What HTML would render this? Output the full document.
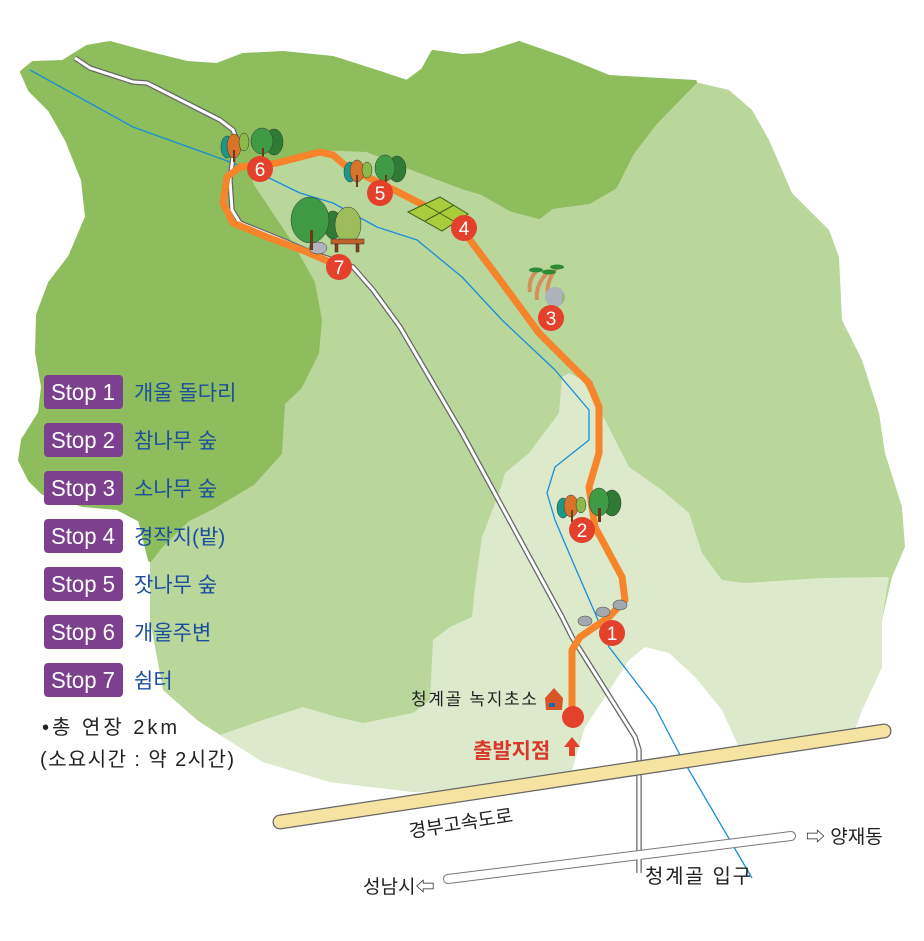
<!DOCTYPE html>
<html><head><meta charset="utf-8"><style>
html,body{margin:0;padding:0;background:#fff;width:924px;height:941px;overflow:hidden}
svg{display:block}
text{font-family:"Liberation Sans","Noto Sans CJK KR",sans-serif}
</style></head><body>
<svg width="924" height="941" viewBox="0 0 924 941" xmlns="http://www.w3.org/2000/svg">
<!-- light green -->
<path d="M695,82 L729,90 L752,110 L769,140 L792,193 L829,230 L839,257 L842,320 L862,360 L879,413 L885,453 L902,507 L905,547 L892,577 L882,620 L882,667 L862,710 L852,737 L575,775 L470,790 L413,792 L330,782 L263,762 L220,735 L197,720 L163,690 L150,620 L150,560 L160,547 L187,520 L213,507 L253,483 L280,453 L283,403 L300,387 L317,353 L320,320 L313,283 L293,247 L273,217 L253,187 L247,173 L283,157 L317,148 L367,150 L417,170 L462,187 L482,193 L512,210 L539,217 L552,207 L589,202 L615,187 L632,153 L655,123 Z" fill="#b9d69b"/>
<!-- lightest -->
<path d="M562,377 L569,373 L582,380 L605,420 L629,467 L662,490 L689,513 L702,553 L722,580 L745,583 L822,578 L889,577 L882,620 L882,667 L862,710 L852,737 L575,775 L470,790 L413,792 L330,782 L263,762 L220,735 L263,720 L303,707 L337,717 L363,723 L413,713 L430,700 L433,640 L450,627 L472,617 L475,587 L482,537 L499,493 L505,473 L529,453 L559,413 Z" fill="#dde9cb"/>
<!-- white notch -->
<path d="M572,770 L585,727 L605,697 L629,660 L645,647 L669,653 L695,677 L722,710 L740,750 Z" fill="#fff"/>
<!-- dark green -->
<path d="M22,72 L33,63 L63,62 L87,47 L110,43 L143,52 L187,63 L217,65 L243,55 L283,53 L333,58 L377,72 L407,82 L423,70 L433,52 L462,56 L482,55 L519,43 L562,58 L609,77 L695,82 L655,123 L632,153 L615,187 L589,202 L552,207 L539,217 L512,210 L482,193 L462,187 L417,170 L367,150 L317,148 L283,157 L247,173 L253,187 L273,217 L293,247 L313,283 L320,320 L317,353 L300,387 L283,403 L280,453 L253,483 L213,507 L187,520 L160,547 L150,560 L140,520 L117,508 L83,505 L43,493 L30,480 L20,460 L23,440 L40,413 L43,387 L37,353 L38,315 L50,283 L70,257 L87,217 L83,180 L67,140 L50,110 L30,90 Z" fill="#8dbd5c" stroke="#8dbd5c" stroke-width="4" stroke-linejoin="round"/>
<!-- stream -->
<path d="M30,70 L133,127 L233,163 L267,177 L300,193 L333,203 L377,227 L417,240 L462,277 L502,320 L555,370 L589,410 L589,440 L555,467 L547,493 L555,520 L572,560 L595,613 L609,647 L655,707 L679,753 L752,878" fill="none" stroke="#1a8fd6" stroke-width="1.3" stroke-linejoin="round"/>
<!-- main road -->
<path d="M75,58 L90,68 L133,82 L147,83 L220,120 L233,130 L237,140 L233,157 L230,180 L232,210 L240,223 L287,242 L310,252 L353,267 L373,290 L400,327 L462,433 L562,617 L572,637 L635,737 L639,750 L639,873" fill="none" stroke="#666" stroke-width="5.5" stroke-linejoin="round"/>
<path d="M75,58 L90,68 L133,82 L147,83 L220,120 L233,130 L237,140 L233,157 L230,180 L232,210 L240,223 L287,242 L310,252 L353,267 L373,290 L400,327 L462,433 L562,617 L572,637 L635,737 L639,750 L639,873" fill="none" stroke="#fff" stroke-width="3" stroke-linejoin="round"/>
<!-- bottom road -->
<line x1="448" y1="879" x2="791" y2="836" stroke="#777" stroke-width="10" stroke-linecap="round"/>
<line x1="448" y1="879" x2="791" y2="836" stroke="#fff" stroke-width="8" stroke-linecap="round"/>
<line x1="639" y1="852" x2="639" y2="873" stroke="#fff" stroke-width="3"/>
<!-- highway -->
<line x1="280" y1="822" x2="884" y2="731" stroke="#666" stroke-width="15" stroke-linecap="round"/>
<line x1="280" y1="822" x2="884" y2="731" stroke="#f5e3a2" stroke-width="12.5" stroke-linecap="round"/>
<!-- route -->
<path d="M572,717 L572,650 L580,637 L609,617 L625,600 L622,577 L595,527 L589,487 L599,453 L599,407 L589,383 L539,333 L500,280 L470,240 L461,228 L433,210 L400,193 L347,167 L333,155 L320,152 L277,163 L240,167 L227,177 L223,203 L233,223 L267,237 L307,252 L339,266" fill="none" stroke="#f5842a" stroke-width="7" stroke-linejoin="round" stroke-linecap="round"/>
<!-- field -->
<path d="M408,212 L440,197 L468,214 L442,231 Z" fill="#a8cc3c" stroke="#3e5e18" stroke-width="1"/>
<path d="M424,204 L455,222 M425,221 L454,205" stroke="#3e5e18" stroke-width="1"/>
<!-- trees -->
<g stroke="#333" stroke-width="0.5">
<ellipse cx="227" cy="147" rx="6" ry="11" fill="#18998a"/><ellipse cx="234" cy="146" rx="7" ry="12" fill="#d8742a"/><ellipse cx="244" cy="142" rx="5" ry="9" fill="#8db84a"/>
<ellipse cx="274" cy="142" rx="9" ry="13" fill="#2f7a35"/><ellipse cx="262" cy="141" rx="11" ry="13" fill="#3f9a45"/>
<ellipse cx="350" cy="172" rx="6" ry="10" fill="#18998a"/><ellipse cx="357" cy="171" rx="7" ry="11" fill="#d8742a"/><ellipse cx="367" cy="170" rx="5" ry="8" fill="#8db84a"/>
<ellipse cx="397" cy="169" rx="9" ry="13" fill="#2f7a35"/><ellipse cx="385" cy="168" rx="10" ry="13" fill="#3f9a45"/>
<ellipse cx="333" cy="225" rx="9" ry="14" fill="#2f7a35"/><ellipse cx="310" cy="220" rx="19" ry="23" fill="#3f9a45"/><ellipse cx="348" cy="225" rx="13" ry="18" fill="#9cbd5a"/>
<rect x="331" y="239" width="33" height="5" fill="#c0602a"/><rect x="335" y="244" width="3" height="8" fill="#8b3a1a"/><rect x="356" y="244" width="3" height="8" fill="#8b3a1a"/>
<ellipse cx="318" cy="248" rx="9" ry="6" fill="#b0b4bc"/>
<ellipse cx="563" cy="508" rx="6" ry="10" fill="#18998a"/><ellipse cx="571" cy="506" rx="7" ry="11" fill="#d8742a"/><ellipse cx="581" cy="505" rx="5" ry="8" fill="#8db84a"/>
<ellipse cx="612" cy="503" rx="9" ry="13" fill="#2f7a35"/><ellipse cx="599" cy="502" rx="10" ry="14" fill="#3f9a45"/>
</g>
<g fill="#6b3a1a"><rect x="233" y="150" width="2" height="12"/><rect x="262" y="148" width="2" height="14"/><rect x="356" y="175" width="2" height="12"/><rect x="385" y="175" width="2" height="13"/><rect x="310" y="230" width="3" height="20"/><rect x="571" y="510" width="2" height="12"/><rect x="598" y="508" width="3" height="14"/></g>
<path d="M530,292 Q528,280 536,272 M537,300 Q535,285 548,272 M548,296 Q545,285 556,268" stroke="#d58f5c" stroke-width="4" fill="none"/>
<g fill="#2f8a35"><ellipse cx="536" cy="270" rx="7" ry="2.5"/><ellipse cx="549" cy="272" rx="7" ry="2.5"/><ellipse cx="557" cy="267" rx="7" ry="2.5"/></g>
<circle cx="555" cy="297" r="10" fill="#aeb2ba"/><path d="M562,292 A10,10 0 0 1 562,304 Z" fill="#8dbd5c"/>
<g fill="#a4a8b0" stroke="#555" stroke-width="0.6"><ellipse cx="585" cy="621" rx="7" ry="5"/><ellipse cx="603" cy="612" rx="7" ry="5"/><ellipse cx="620" cy="605" rx="7" ry="5"/></g>
<path d="M545,698 L554,688 L563,698 L562,710 L546,710 Z" fill="#d8552a"/><rect x="549" y="703" width="6" height="4" fill="#1a6ab0"/>
<!-- markers -->
<g fill="#e4412c">
<circle cx="612" cy="633" r="13"/><circle cx="582" cy="530" r="13"/><circle cx="551" cy="318" r="13"/><circle cx="464" cy="228" r="13"/><circle cx="380" cy="193" r="13"/><circle cx="260" cy="169" r="13"/><circle cx="339" cy="267" r="13"/>
</g>
<circle cx="573" cy="717" r="11" fill="#e4412c"/>
<g fill="#fff" font-size="19" text-anchor="middle">
<text x="612" y="640">1</text><text x="582" y="537">2</text><text x="551" y="325">3</text><text x="464" y="235">4</text><text x="380" y="200">5</text><text x="260" y="176">6</text><text x="339" y="274">7</text>
</g>
<!-- legend -->
<g fill="#7d408f">
<rect x="44" y="375" width="79" height="34" rx="4"/><rect x="44" y="423" width="79" height="34" rx="4"/><rect x="44" y="471" width="79" height="34" rx="4"/><rect x="44" y="519" width="79" height="34" rx="4"/><rect x="44" y="567" width="79" height="34" rx="4"/><rect x="44" y="615" width="79" height="34" rx="4"/><rect x="44" y="663" width="79" height="34" rx="4"/>
</g>
<g fill="#fff" font-size="23" text-anchor="middle">
<text x="83" y="400" textLength="64" lengthAdjust="spacingAndGlyphs">Stop 1</text>
<text x="83" y="448" textLength="64" lengthAdjust="spacingAndGlyphs">Stop 2</text>
<text x="83" y="496" textLength="64" lengthAdjust="spacingAndGlyphs">Stop 3</text>
<text x="83" y="544" textLength="64" lengthAdjust="spacingAndGlyphs">Stop 4</text>
<text x="83" y="592" textLength="64" lengthAdjust="spacingAndGlyphs">Stop 5</text>
<text x="83" y="640" textLength="64" lengthAdjust="spacingAndGlyphs">Stop 6</text>
<text x="83" y="688" textLength="64" lengthAdjust="spacingAndGlyphs">Stop 7</text>
</g>
<g fill="#1b4f9e" font-size="21">
<text x="134" y="400">개울 돌다리</text>
<text x="134" y="448">참나무 숲</text>
<text x="134" y="496">소나무 숲</text>
<text x="134" y="544">경작지(밭)</text>
<text x="134" y="592">잣나무 숲</text>
<text x="134" y="640">개울주변</text>
<text x="134" y="688">쉼터</text>
</g>
<g fill="#222" font-size="20">
<text x="42" y="734" textLength="135" lengthAdjust="spacing">•총 연장 2km</text>
<text x="40" y="766" textLength="194" lengthAdjust="spacing">(소요시간 : 약 2시간)</text>
<text x="411" y="705" font-size="17" textLength="126" lengthAdjust="spacing">청계골 녹지초소</text>
<text x="473" y="758" fill="#d8392a" font-weight="bold" font-size="21">출발지점</text>
<text x="410" y="838" font-size="19" transform="rotate(-9 410 838)">경부고속도로</text>
<text x="806" y="843" font-size="19">⇨ 양재동</text>
<text x="363" y="893" font-size="19">성남시⇦</text>
<text x="645" y="883" font-size="20" textLength="106" lengthAdjust="spacing">청계골 입구</text>
</g>
<path d="M572,737 L580,747 L575,747 L575,756 L569,756 L569,747 L564,747 Z" fill="#e4412c"/>
</svg>
</body></html>
